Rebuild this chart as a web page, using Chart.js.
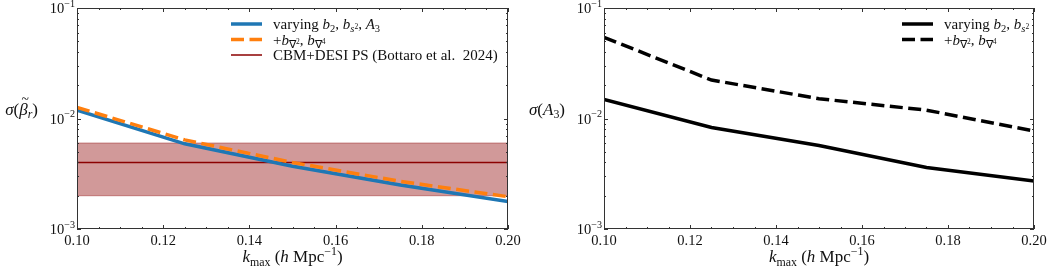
<!DOCTYPE html>
<html>
<head>
<meta charset="utf-8">
<script src="https://cdn.jsdelivr.net/npm/chart.js"></script>
<style>
  html, body { margin: 0; padding: 0; background: #fff; }
  #wrap { position: relative; width: 1057px; height: 273px; }
  #left { position: absolute; left: 0; top: 0; }
  #right { position: absolute; left: 527px; top: 0; }
</style>
</head>
<body>
<div id="wrap">
  <canvas id="left" width="527" height="273"></canvas>
  <canvas id="right" width="530" height="273"></canvas>
</div>
<script>
'use strict'

// values
const kmax = [0.100, 0.125, 0.150, 0.175, 0.200];
const betaVary = [0.0119, 0.0059, 0.0037, 0.0025, 0.00177];
const betaDeriv = [0.0126, 0.0064, 0.0040, 0.0027, 0.00196];
const a3Vary = [0.0149, 0.0083, 0.0057, 0.0036, 0.00272];
const a3Deriv = [0.0543, 0.0223, 0.0151, 0.0119, 0.0077];
const cbmValue = 0.004;
const cbmError = 0.002;
const xTickValues = [0.10, 0.12, 0.14, 0.16, 0.18, 0.20];
const yDecades = [-3, -2, -1];

const FONT = '"Liberation Serif", "Times New Roman", serif';
Chart.defaults.font.family = FONT;

// little rich-text helper for the math-ish labels
const STY = {
  r:     { it: false, sz: 1,   dy: 0 },
  i:     { it: true,  sz: 1,   dy: 0 },
  sub:   { it: false, sz: 0.7, dy: 0.22 },
  subi:  { it: true,  sz: 0.7, dy: 0.22 },
  sup:   { it: false, sz: 0.7, dy: -0.42 },
  ssup:  { it: false, sz: 0.5, dy: -0.02 },
  tilde: { it: false, sz: 0.8, dy: -0.62, over: true }
};

function fontOf(p, size) {
  var st = STY[p[1]];
  return (st.it ? 'italic ' : '') + (size * st.sz) + 'px ' + FONT;
}

function drawRich(ctx, parts, x, y, size, align) {
  var w = 0;
  parts.forEach(function(p) {
    if (STY[p[1]].over) return;
    ctx.font = fontOf(p, size);
    w += ctx.measureText(p[0]).width;
  });
  var cx = align == 'center' ? x - w / 2 : (align == 'right' ? x - w : x);
  var lastW = 0;
  ctx.textBaseline = 'alphabetic';
  parts.forEach(function(p) {
    var st = STY[p[1]];
    ctx.font = fontOf(p, size);
    if (st.over) {
      // accent centred over the previous glyph, nudged right for the italic slant
      ctx.textAlign = 'center';
      ctx.fillText(p[0], cx - lastW / 2 + size * 0.1, y + st.dy * size);
      return;
    }
    ctx.textAlign = 'left';
    ctx.fillText(p[0], cx, y + st.dy * size);
    lastW = ctx.measureText(p[0]).width;
    cx += lastW;
  });
}

const xTitle = [['k', 'i'], ['max', 'sub'], [' (', 'r'], ['h', 'i'], [' Mpc', 'r'], ['\u22121', 'sup'], [')', 'r']];
const derivLabel = [['+', 'r'], ['b', 'i'], ['\u2207', 'sub'], ['2', 'ssup'], [', ', 'r'], ['b', 'i'], ['\u2207', 'sub'], ['4', 'ssup']];

// frame, inward ticks, y labels, titles and legend
const sciAxes = {
  id: 'sciAxes',
  afterDraw(chart, args, opts) {
    const ctx = chart.ctx, a = chart.chartArea;
    const xs = chart.scales.x, ys = chart.scales.y;
    ctx.save();
    ctx.strokeStyle = '#333';
    ctx.lineWidth = 1;
    ctx.strokeRect(a.left + 0.5, a.top + 0.5, a.right - a.left - 1, a.bottom - a.top - 1);

    ctx.beginPath();
    for (let i = 0; i <= 20; i++) {
      const px = Math.round(xs.getPixelForValue(xs.min + i * 0.005)) + 0.5;
      const len = i % 4 == 0 ? 4 : 2;
      ctx.moveTo(px, a.bottom); ctx.lineTo(px, a.bottom - len);
      ctx.moveTo(px, a.top); ctx.lineTo(px, a.top + len);
    }
    yDecades.forEach(function(e) {
      for (let m = 1; m < 10; m++) {
        const v = m * Math.pow(10, e);
        if (v > ys.max * 1.0001) break;
        const py = Math.round(ys.getPixelForValue(v)) + 0.5;
        const len = m == 1 ? 4 : 2;
        ctx.moveTo(a.left, py); ctx.lineTo(a.left + len, py);
        ctx.moveTo(a.right, py); ctx.lineTo(a.right - len, py);
      }
    });
    ctx.stroke();

    ctx.fillStyle = '#111';
    yDecades.forEach(function(e) {
      drawRich(ctx, [['10', 'r'], ['\u2212' + (-e), 'sup']], a.left - 2, ys.getPixelForValue(Math.pow(10, e)) + 5, 14.5, 'right');
    });
    drawRich(ctx, xTitle, (a.left + a.right) / 2, 262, 17, 'center');
    drawRich(ctx, opts.yTitle, a.left - 39, (a.top + a.bottom) / 2 - 4, 17, 'right');

    const lg = opts.legend;
    lg.items.forEach(function(it, i) {
      const ds = chart.data.datasets[it.ds];
      const y = a.top + lg.dy + i * 15.5;
      const x0 = a.left + lg.dx;
      ctx.strokeStyle = ds.borderColor;
      ctx.lineWidth = ds.borderWidth;
      ctx.setLineDash(ds.borderDash || []);
      ctx.beginPath();
      ctx.moveTo(x0, y); ctx.lineTo(x0 + 31, y);
      ctx.stroke();
      ctx.setLineDash([]);
      drawRich(ctx, it.parts, x0 + 42, y + 5, 15, 'left');
    });
    ctx.restore();
  }
};

function pts(ys) {
  return kmax.map(function(k, i) { return { x: k, y: ys[i] }; });
}

function flat(v) {
  return [kmax[0], kmax[kmax.length - 1]].map(function(k) { return { x: k, y: v }; });
}

function makeOptions(padRight, yTitle, legend) {
  return {
    responsive: false,
    animation: false,
    events: [],
    layout: { padding: { top: 8, right: padRight, left: 0, bottom: 0 } },
    elements: { point: { radius: 0 }, line: { tension: 0, borderCapStyle: 'butt' } },
    plugins: {
      legend: { display: false },
      tooltip: { enabled: false },
      sciAxes: { yTitle: yTitle, legend: legend }
    },
    scales: {
      x: {
        type: 'linear',
        min: 0.1,
        max: 0.2,
        grid: { display: false, drawTicks: false },
        border: { display: false },
        afterBuildTicks: function(s) { s.ticks = xTickValues.map(function(v) { return { value: v }; }); },
        afterFit: function(s) { s.height = 44; },
        ticks: {
          padding: 3,
          maxRotation: 0,
          color: '#111',
          font: { size: 14.5 },
          callback: function(v) { return v.toFixed(2); }
        }
      },
      y: {
        type: 'logarithmic',
        min: 1e-3,
        max: 1e-1,
        grid: { display: false, drawTicks: false },
        border: { display: false },
        ticks: { display: false },
        afterFit: function(s) { s.width = 77; }
      }
    }
  };
}

const bandFill = 'rgba(139, 0, 0, 0.4)';

let chartBeta = new Chart(document.getElementById('left').getContext('2d'), {
  type: 'line',
  data: {
    datasets: [
      { label: 'deriv', data: pts(betaDeriv), borderColor: '#ff7f0e', borderWidth: 3.5, borderDash: [13, 5.5], fill: false, order: 0 },
      { label: 'vary', data: pts(betaVary), borderColor: '#1f77b4', borderWidth: 3.5, fill: false, order: 1 },
      { label: 'CBM+DESI PS', data: flat(cbmValue), borderColor: '#8b0000', borderWidth: 1.5, fill: false, order: 2 },
      { label: 'band hi', data: flat(cbmValue + cbmError), borderColor: bandFill, borderWidth: 1, backgroundColor: bandFill, fill: '+1', order: 3 },
      { label: 'band lo', data: flat(cbmValue - cbmError), borderColor: bandFill, borderWidth: 1, fill: false, order: 4 }
    ]
  },
  options: makeOptions(19,
    [['\u03c3', 'i'], ['(', 'r'], ['\u03b2', 'i'], ['~', 'tilde'], ['r', 'subi'], [')', 'r']],
    { dx: 154, dy: 16, items: [
      { ds: 1, parts: [['varying ', 'r'], ['b', 'i'], ['2', 'sub'], [', ', 'r'], ['b', 'i'], ['s', 'subi'], ['2', 'ssup'], [', ', 'r'], ['A', 'i'], ['3', 'sub']] },
      { ds: 0, parts: derivLabel },
      { ds: 2, parts: [['CBM+DESI PS (Bottaro et al.  2024)', 'r']] }
    ] }),
  plugins: [sciAxes]
});

let chartA3 = new Chart(document.getElementById('right').getContext('2d'), {
  type: 'line',
  data: {
    datasets: [
      { label: 'deriv', data: pts(a3Deriv), borderColor: '#000', borderWidth: 3.5, borderDash: [13, 5.5], fill: false, order: 0 },
      { label: 'vary', data: pts(a3Vary), borderColor: '#000', borderWidth: 3.5, fill: false, order: 1 }
    ]
  },
  options: makeOptions(23,
    [['\u03c3', 'i'], ['(', 'r'], ['A', 'i'], ['3', 'sub'], [')', 'r']],
    { dx: 298, dy: 16, items: [
      { ds: 1, parts: [['varying ', 'r'], ['b', 'i'], ['2', 'sub'], [', ', 'r'], ['b', 'i'], ['s', 'subi'], ['2', 'ssup']] },
      { ds: 0, parts: derivLabel }
    ] }),
  plugins: [sciAxes]
});
</script>
</body>
</html>
